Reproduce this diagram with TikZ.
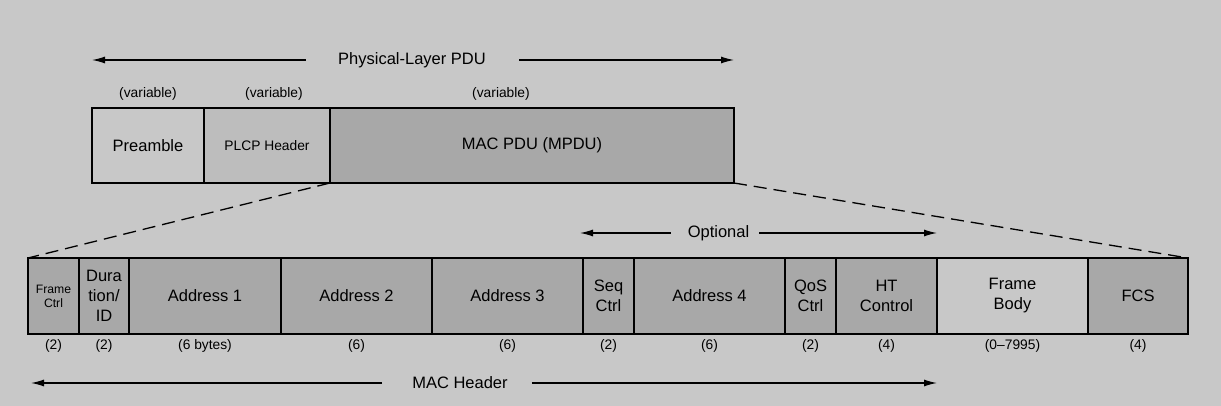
\documentclass[tikz,border=0pt]{standalone}
\usepackage{fontspec}
\setmainfont{Liberation Sans}
\usetikzlibrary{arrows.meta}
\definecolor{bg}{HTML}{C8C8C8}
\definecolor{plcp}{HTML}{BDBDBD}
\definecolor{dark}{HTML}{A8A8A8}
\newcommand{\bigf}{\fontsize{16.5}{20}\selectfont}
\newcommand{\smallf}{\fontsize{13.8}{16}\selectfont}
\newcommand{\tinyf}{\fontsize{12.2}{14}\selectfont}
\tikzset{
  fld/.style={draw=black, line width=1.2pt, inner sep=0pt, outer sep=0pt, align=center, font=\bigf, anchor=north west, minimum height=76pt},
  top/.style={fld, minimum height=75pt},
  sz/.style={font=\smallf, inner sep=0pt},
  arr/.style={line width=1.2pt, -{Latex[length=13pt,width=7pt]}},
  dsh/.style={line width=1.3pt, dash pattern=on 13pt off 7pt},
  lbl/.style={font=\bigf, inner sep=0pt}
}
\begin{document}
\begin{tikzpicture}[x=1pt,y=-1pt]
\fill[bg] (0,0) rectangle (1221,406);
\useasboundingbox (0,0) rectangle (1221,406);
% top row
\node[top, fill=bg, minimum width=112pt] (pre) at (92,108) {Preamble};
\node[top, fill=plcp, minimum width=126pt, font=\smallf] (plcp) at (pre.north east) {PLCP Header};
\node[top, fill=dark, minimum width=404pt] (mac) at (plcp.north east) {MAC PDU (MPDU)};
\node[sz] (v1) at (148,94) {(variable)};
\node[sz] (v2) at (274,94) {(variable)};
\node[sz] (v3) at (501,94) {(variable)};
% physical-layer PDU
\node[lbl] (phy) at (412,60) {Physical-Layer PDU};
\coordinate (phyL) at (92,60);
\coordinate (phyR) at (734,60);
\draw[arr] ([xshift=-32pt]phy.west) -- (phyL);
\draw[arr] ([xshift=33pt]phy.east) -- (phyR);
% bottom row
\node[fld, fill=dark, minimum width=51pt, font=\tinyf] (fc) at (28,258) {Frame\\Ctrl};
\node[fld, fill=dark, minimum width=50pt] (dur) at (fc.north east) {Dura\\tion/\\ID};
\node[fld, fill=dark, minimum width=152pt] (a1) at (dur.north east) {Address 1};
\node[fld, fill=dark, minimum width=151pt] (a2) at (a1.north east) {Address 2};
\node[fld, fill=dark, minimum width=151pt] (a3) at (a2.north east) {Address 3};
\node[fld, fill=dark, minimum width=51pt] (seq) at (a3.north east) {Seq\\Ctrl};
\node[fld, fill=dark, minimum width=151pt] (a4) at (seq.north east) {Address 4};
\node[fld, fill=dark, minimum width=51pt] (qos) at (a4.north east) {QoS\\Ctrl};
\node[fld, fill=dark, minimum width=101pt] (ht) at (qos.north east) {HT\\Control};
\node[fld, fill=bg, minimum width=151pt] (body) at (ht.north east) {Frame\\Body};
\node[fld, fill=dark, minimum width=100pt] (fcs) at (body.north east) {FCS};
% sizes
\node[sz, yshift=-12pt] (s1) at (fc.south) {(2)};
\node[sz, yshift=-12pt] (s2) at (dur.south) {(2)};
\node[sz, yshift=-12pt] (s3) at (a1.south) {(6 bytes)};
\node[sz, yshift=-12pt] (s4) at (a2.south) {(6)};
\node[sz, yshift=-12pt] (s5) at (a3.south) {(6)};
\node[sz, yshift=-12pt] (s6) at (seq.south) {(2)};
\node[sz, yshift=-12pt] (s7) at (a4.south) {(6)};
\node[sz, yshift=-12pt] (s8) at (qos.south) {(2)};
\node[sz, yshift=-12pt] (s9) at (ht.south) {(4)};
\node[sz, yshift=-12pt] (s10) at (body.south) {(0--7995)};
\node[sz, yshift=-12pt] (s11) at (fcs.south) {(4)};
% dashed expansion lines
\draw[dsh] (mac.south west) -- (fc.north west);
\draw[dsh] (mac.south east) -- (fcs.north east);
% optional
\node[lbl] (opt) at (718.5,233) {Optional};
\coordinate (optL) at (580,233);
\coordinate (optR) at (937,233);
\draw[arr] ([xshift=-17pt]opt.west) -- (optL);
\draw[arr] ([xshift=10pt]opt.east) -- (optR);
% MAC header
\node[lbl] (mh) at (460,383) {MAC Header};
\coordinate (mhL) at (31,383);
\coordinate (mhR) at (937,383);
\draw[arr] ([xshift=-30pt]mh.west) -- (mhL);
\draw[arr] ([xshift=24pt]mh.east) -- (mhR);
\end{tikzpicture}
\end{document}
